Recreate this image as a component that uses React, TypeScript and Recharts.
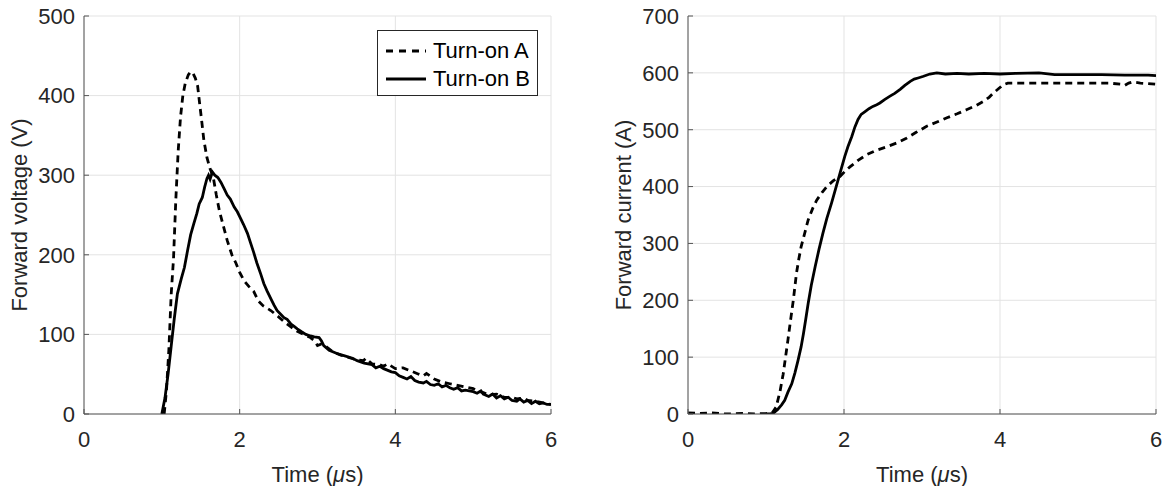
import { CartesianGrid, Label, Line, LineChart, XAxis, YAxis } from "recharts";

// Forward voltage, turn-on A (dashed)
const voltATime = [
  1.03, 1.06, 1.09, 1.12, 1.15, 1.18, 1.21, 1.24, 1.27, 1.3, 1.34, 1.37, 1.4, 1.43, 1.46, 1.48,
  1.51, 1.54, 1.58, 1.62, 1.66, 1.7, 1.74, 1.78, 1.84, 1.9, 1.95, 2.0, 2.06, 2.12, 2.18, 2.24,
  2.3, 2.4, 2.5, 2.57, 2.65, 2.74, 2.82, 2.91, 2.96, 3.0, 3.05, 3.12, 3.2, 3.3, 3.4, 3.5, 3.59,
  3.62, 3.7, 3.8, 3.85, 3.9, 4.0, 4.1, 4.2, 4.3, 4.36, 4.4, 4.5, 4.6, 4.7, 4.8, 4.9, 5.0, 5.05,
  5.13, 5.2, 5.3, 5.4, 5.5, 5.56, 5.65, 5.7, 5.8, 5.9, 6.0,
];
const voltAValue = [
  0, 30, 80, 150, 195, 270, 330, 373, 400, 415, 426, 430, 428, 422, 412, 395,
  370, 344, 322, 308, 298, 275, 255, 240, 218, 200, 190, 178, 167, 160, 154, 142,
  136, 130, 122, 116, 110, 104, 100, 96, 92, 86, 88, 84, 78, 74, 71, 68, 67,
  70, 63, 62, 60, 63, 57, 58, 54, 50, 48, 51, 44, 40, 38, 36, 34, 32, 29,
  27, 24, 25, 21, 21, 19, 20, 17, 16, 14, 12,
];

// Forward voltage, turn-on B (solid)
const voltBTime = [
  1.0, 1.04, 1.08, 1.12, 1.16, 1.2, 1.25, 1.29, 1.33, 1.37, 1.41, 1.45, 1.48, 1.52, 1.55, 1.58,
  1.6, 1.62, 1.65, 1.68, 1.72, 1.76, 1.8, 1.84, 1.88, 1.93, 1.97, 2.01, 2.05, 2.1, 2.14, 2.18,
  2.22, 2.27, 2.31, 2.35, 2.4, 2.44, 2.48, 2.53, 2.57, 2.61, 2.66, 2.7, 2.74, 2.8, 2.85, 2.91,
  2.96, 3.02, 3.05, 3.08, 3.15, 3.25, 3.35, 3.45, 3.51, 3.6, 3.7, 3.75, 3.8, 3.85, 3.95, 4.0,
  4.05, 4.1, 4.15, 4.2, 4.25, 4.3, 4.36, 4.4, 4.45, 4.5, 4.55, 4.6, 4.65, 4.7, 4.75, 4.8, 4.85,
  4.9, 5.0, 5.05, 5.1, 5.13, 5.2, 5.25, 5.3, 5.35, 5.4, 5.45, 5.5, 5.56, 5.6, 5.65, 5.7, 5.75,
  5.8, 5.85, 5.9, 5.95, 6.0,
];
const voltBValue = [
  0, 20, 50, 85, 120, 151, 170, 184, 205, 225, 239, 252, 264, 272, 285, 296,
  300, 295, 304, 300, 297, 291, 283, 275, 270, 260, 254, 246, 238, 227, 215, 203,
  190, 176, 164, 155, 145, 137, 130, 125, 121, 119, 113, 110, 107, 103, 100, 98,
  97, 96, 92, 86, 80, 76, 73, 70, 67, 64, 62, 58, 60, 57, 53, 52,
  48, 46, 44, 47, 42, 40, 39, 41, 37, 36, 38, 34, 36, 33, 31, 33, 29,
  30, 28, 26, 29, 25, 22, 25, 20, 23, 19, 21, 17, 16, 19, 15, 17, 13,
  16, 13, 14, 12, 12,
];

// Forward current, turn-on A (dashed)
const currATime = [
  0, 0.15, 0.3, 0.5, 0.7, 0.85, 1.0, 1.08, 1.13, 1.18, 1.22, 1.28, 1.32, 1.35, 1.39, 1.42, 1.45,
  1.5, 1.54, 1.6, 1.65, 1.72, 1.78, 1.86, 1.95, 2.02, 2.08, 2.18, 2.29, 2.4, 2.55, 2.68, 2.8,
  2.92, 3.06, 3.2, 3.32, 3.45, 3.57, 3.7, 3.79, 3.86, 3.92, 3.98, 4.04, 4.1, 4.5, 5.0, 5.4,
  5.55, 5.6, 5.65, 5.7, 5.8, 6.0,
];
const currAValue = [
  2, 1, 2, 0, 1, 0, 1, 2, 12, 40, 70, 129, 170, 200, 247, 272, 294,
  320, 341, 362, 376, 390, 400, 410, 418, 428, 435, 446, 456, 463, 470, 477, 485,
  495, 506, 514, 521, 528, 535, 543, 550, 557, 565, 572, 579, 582, 582, 582, 582,
  580, 578, 582, 584, 582, 580,
];

// Forward current, turn-on B (solid)
const currBTime = [
  1.0, 1.05, 1.09, 1.15, 1.2, 1.24, 1.28, 1.33, 1.37, 1.41, 1.45, 1.48, 1.51, 1.54, 1.58, 1.63,
  1.68, 1.73, 1.78, 1.84, 1.9, 1.95, 2.01, 2.05, 2.1, 2.14, 2.18, 2.22, 2.27, 2.32, 2.37, 2.42,
  2.46, 2.52, 2.59, 2.65, 2.72, 2.78, 2.85, 2.9, 2.95, 3.02, 3.1, 3.19, 3.3, 3.45, 3.6, 3.8,
  4.0, 4.2, 4.5, 4.7, 5.0, 5.3, 5.6, 5.9, 6.0,
];
const currBValue = [
  0, 0, 1, 8, 16, 24, 38, 53, 72, 94, 118, 141, 167, 194, 226, 259,
  290, 318, 344, 371, 400, 424, 453, 470, 488, 505, 518, 527, 532, 537, 541, 544,
  547, 553, 559, 564, 571, 578, 585, 589, 591, 594, 598, 600, 598, 599, 598, 599,
  598, 599, 600, 597, 597, 597, 596, 596, 595,
];

const timeTicks = [0, 2, 4, 6];
const voltTicks = [0, 100, 200, 300, 400, 500];
const currTicks = [0, 100, 200, 300, 400, 500, 600, 700];

const zip = (t: number[], v: number[]) => t.map((x, i) => ({ t: x, v: v[i] }));

const FONT = "'Liberation Sans', Arial, Helvetica, sans-serif";
const TEXT = "#262626";
const AXIS = "#555555";
const GRID = "#e3e3e3";
const FS = 22;

const W = 584;
const H = 486;

function Panel({
  yLabel,
  yTicks,
  yMax,
  marginLeft,
  marginRight,
  series,
}: {
  yLabel: string;
  yTicks: number[];
  yMax: number;
  marginLeft: number;
  marginRight: number;
  series: { data: { t: number; v: number }[]; dashed: boolean }[];
}) {
  const plotLeft = marginLeft + 60;
  const plotRight = W - marginRight;
  const cx = (plotLeft + plotRight) / 2;
  const cy = (16 + 414) / 2;
  return (
    <LineChart
      width={W}
      height={H}
      margin={{ top: 16, right: marginRight, bottom: 42, left: marginLeft }}
      style={{ fontFamily: FONT }}
    >
      <CartesianGrid stroke={GRID} strokeWidth={1} />
      <XAxis
        dataKey="t"
        type="number"
        domain={[0, 6]}
        ticks={timeTicks}
        allowDataOverflow
        height={30}
        tickSize={-5}
        tickMargin={22}
        stroke={AXIS}
        tick={{ fill: TEXT, fontSize: FS, fontFamily: FONT }}
        tickLine={{ stroke: AXIS }}
      >
        <Label
          content={() => (
            <text x={cx} y={482} textAnchor="middle" fill={TEXT} fontSize={FS} fontFamily={FONT}>
              Time (<tspan fontStyle="italic">μ</tspan>s)
            </text>
          )}
        />
      </XAxis>
      <XAxis
        xAxisId="top"
        orientation="top"
        dataKey="t"
        type="number"
        domain={[0, 6]}
        height={0}
        tick={false}
        stroke={AXIS}
      />
      <YAxis
        type="number"
        domain={[0, yMax]}
        ticks={yTicks}
        allowDataOverflow
        width={60}
        tickSize={-5}
        tickMargin={14}
        stroke={AXIS}
        tick={{ fill: TEXT, fontSize: FS, fontFamily: FONT }}
        tickLine={{ stroke: AXIS }}
      >
        <Label
          content={() => (
            <text
              x={plotLeft - 57}
              y={cy}
              transform={`rotate(-90 ${plotLeft - 57} ${cy})`}
              textAnchor="middle"
              fill={TEXT}
              fontSize={FS}
              fontFamily={FONT}
            >
              {yLabel}
            </text>
          )}
        />
      </YAxis>
      <YAxis
        yAxisId="right"
        orientation="right"
        type="number"
        domain={[0, yMax]}
        width={0}
        tick={false}
        stroke={AXIS}
      />
      {series.map((s, i) => (
        <Line
          key={i}
          data={s.data}
          dataKey="v"
          type="linear"
          stroke="#000000"
          strokeWidth={2.8}
          strokeDasharray={s.dashed ? "7 5" : undefined}
          dot={false}
          activeDot={false}
          isAnimationActive={false}
        />
      ))}
    </LineChart>
  );
}

function LegendBox() {
  const rows = [
    { name: "Turn-on A", dashed: true, y: 20 },
    { name: "Turn-on B", dashed: false, y: 48 },
  ];
  return (
    <div
      style={{
        position: "absolute",
        left: 377,
        top: 30,
        width: 159,
        height: 64,
        border: `1px solid ${TEXT}`,
        background: "#ffffff",
        fontFamily: FONT,
        fontSize: FS,
        color: "#000000",
      }}
    >
      {rows.map((r) => (
        <div key={r.name} style={{ position: "absolute", left: 0, top: r.y - 13, height: 26, width: 159 }}>
          <svg width={44} height={26} style={{ position: "absolute", left: 8, top: 0 }}>
            <line
              x1={0}
              y1={13}
              x2={40}
              y2={13}
              stroke="#000000"
              strokeWidth={2.8}
              strokeDasharray={r.dashed ? "7 6" : undefined}
            />
          </svg>
          <span style={{ position: "absolute", left: 55, top: 1, lineHeight: "24px", whiteSpace: "nowrap" }}>
            {r.name}
          </span>
        </div>
      ))}
    </div>
  );
}

export default function App() {
  return (
    <div style={{ position: "absolute", left: 0, top: 0, width: 1168, height: 486, background: "#ffffff" }}>
      <div style={{ position: "absolute", left: 0, top: 0 }}>
        <Panel
          yLabel="Forward voltage (V)"
          yTicks={voltTicks}
          yMax={500}
          marginLeft={24}
          marginRight={33}
          series={[
            { data: zip(voltATime, voltAValue), dashed: true },
            { data: zip(voltBTime, voltBValue), dashed: false },
          ]}
        />
      </div>
      <div style={{ position: "absolute", left: 584, top: 0 }}>
        <Panel
          yLabel="Forward current (A)"
          yTicks={currTicks}
          yMax={700}
          marginLeft={44}
          marginRight={12}
          series={[
            { data: zip(currATime, currAValue), dashed: true },
            { data: zip(currBTime, currBValue), dashed: false },
          ]}
        />
      </div>
      <LegendBox />
    </div>
  );
}
